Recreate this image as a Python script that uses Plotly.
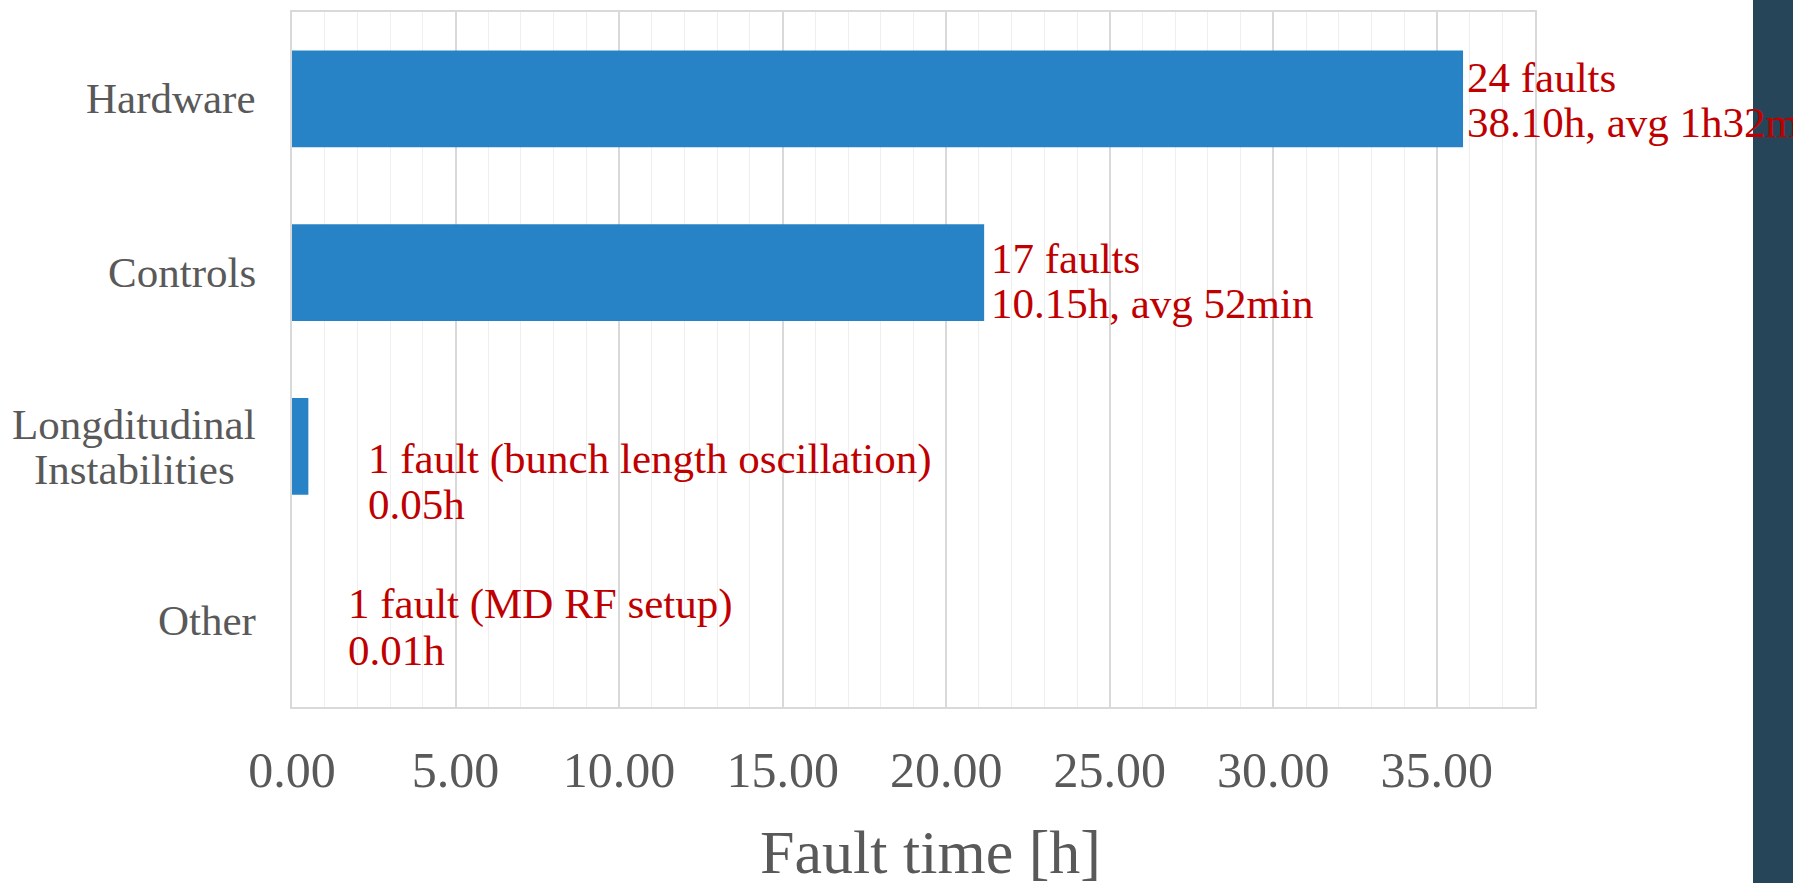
import plotly.graph_objects as go

# ---- data ----
categories = ["Hardware", "Controls", "Longditudinal<br>Instabilities", "Other"]
bar_values = [35.8, 21.16, 0.5, 0.0]
label_line1 = ["24 faults", "17 faults", "1 fault (bunch length oscillation)", "1 fault (MD RF setup)"]
label_line2 = ["38.10h, avg 1h32m", "10.15h, avg 52min", "0.05h", "0.01h"]
x_ticks = [0, 5, 10, 15, 20, 25, 30, 35]

# ---- layout constants (pixels) ----
W_FIG, H_FIG = 1793, 883
L, R, T, B = 292, 1535, 10, 707
PW, PH = R - L, B - T

def px_x(p):
    return (p - L) / PW

def px_y(p):
    return 1 - (p - T) / PH

FONT = "Liberation Serif"
GRAY = "#595959"
RED = "#c00000"
BAR = "#2783c6"

# label placement (layout, not data)
label_x = [None, None, 2.29, 1.68]
label_xshift = [3, 6, 0, 0]
line1_shift = [-21, -14, 13, -16]
line2_shift = [24, 31, 58, 30]

fig = go.Figure()
fig.add_trace(go.Bar(
    y=categories, x=bar_values, orientation="h",
    marker=dict(color=BAR, line=dict(width=0)),
    hoverinfo="skip", showlegend=False,
))

annotations = []
for i, cat in enumerate(categories):
    xv = bar_values[i] if label_x[i] is None else label_x[i]
    for txt, sh in ((label_line1[i], line1_shift[i]), (label_line2[i], line2_shift[i])):
        annotations.append(dict(
            x=xv, y=cat, xref="x", yref="y", text=txt, showarrow=False,
            xanchor="left", yanchor="middle", xshift=label_xshift[i], yshift=-sh,
            font=dict(family=FONT, size=43, color=RED), borderpad=0,
        ))

# category labels (centered multi-line like the reference)
for cat in categories:
    if "<br>" in cat:
        l1, l2 = cat.split("<br>")
        for txt, sh in ((l1, -22), (l2, 23)):
            annotations.append(dict(
                x=px_x(134), y=cat, xref="paper", yref="y", text=txt, showarrow=False,
                xanchor="center", yanchor="middle", yshift=-sh,
                font=dict(family=FONT, size=43, color=GRAY),
            ))
    else:
        annotations.append(dict(
            x=px_x(258), y=cat, xref="paper", yref="y", text=cat, showarrow=False,
            xanchor="right", yanchor="middle",
            font=dict(family=FONT, size=43, color=GRAY),
        ))

# axis title
annotations.append(dict(
    x=px_x(930), y=px_y(852), xref="paper", yref="paper", text="Fault time [h]",
    showarrow=False, xanchor="center", yanchor="middle",
    font=dict(family=FONT, size=62, color=GRAY),
))

fig.update_layout(
    width=W_FIG, height=H_FIG,
    margin=dict(l=L, r=W_FIG - R, t=T, b=H_FIG - B, pad=0),
    paper_bgcolor="white", plot_bgcolor="white",
    bargap=0.444,
    annotations=annotations,
    shapes=[dict(type="rect", xref="paper", yref="paper",
                 x0=px_x(1753), x1=px_x(1800), y0=-1, y1=2,
                 fillcolor="#264558", line=dict(width=0), layer="below")],
    xaxis=dict(
        range=[0, 38], tickvals=x_ticks,
        ticktext=[f"{v:.2f}" for v in x_ticks],
        tickfont=dict(family=FONT, size=50, color=GRAY),
        showgrid=True, gridcolor="#d9d9d9", gridwidth=1.5,
        minor=dict(dtick=1, showgrid=True, gridcolor="#efefef", gridwidth=1),
        showline=True, mirror=True, linecolor="#d9d9d9", linewidth=2,
        zeroline=False, ticks="", ticklabelstandoff=18, fixedrange=True,
    ),
    yaxis=dict(
        categoryorder="array", categoryarray=categories, autorange="reversed",
        showticklabels=False, showgrid=False, zeroline=False,
        showline=True, mirror=True, linecolor="#d9d9d9", linewidth=2, ticks="",
    ),
)

fig.write_html("out.html")
